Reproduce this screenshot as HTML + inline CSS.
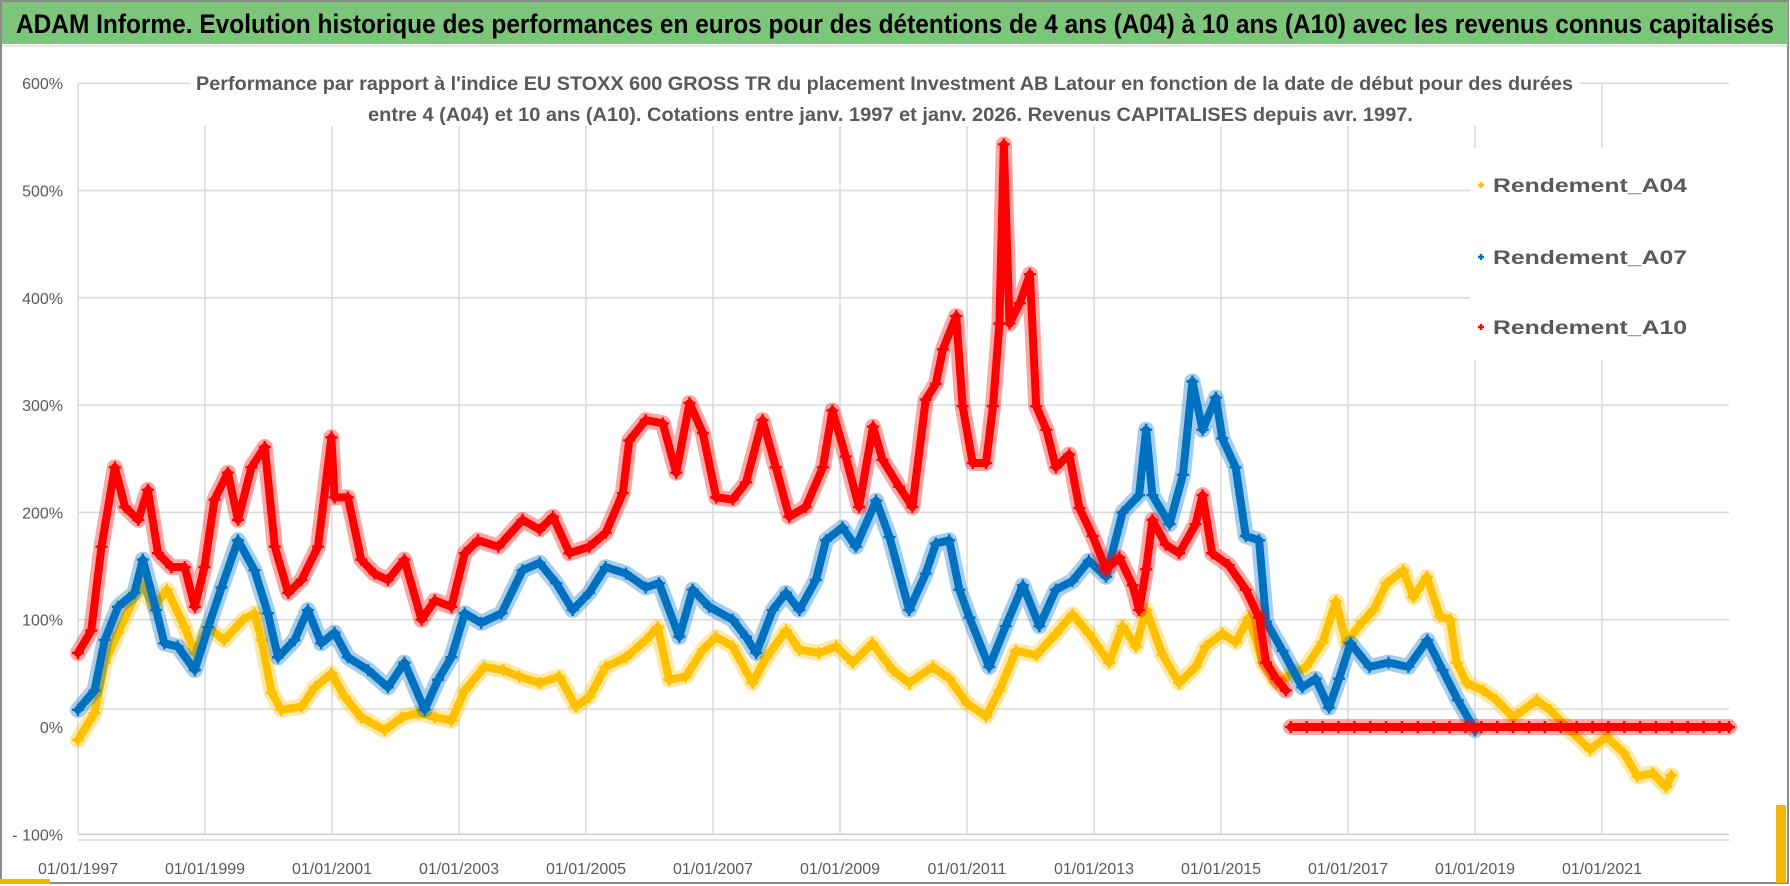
<!DOCTYPE html>
<html><head><meta charset="utf-8"><style>
html,body{margin:0;padding:0;background:#fff}
svg{display:block}
</style></head><body>
<svg id="chart" width="1790" height="886" viewBox="0 0 1790 886" xmlns="http://www.w3.org/2000/svg">
<rect x="0" y="0" width="1790" height="886" fill="#fff"/>
<rect x="1" y="1" width="1787" height="882" fill="none" stroke="#8a8a8a" stroke-width="2"/>
<rect x="2" y="2" width="1786" height="42" fill="#7dc57a"/>
<line x1="2" y1="46" x2="1788" y2="46" stroke="#d0d0d0" stroke-width="1"/>
<text x="16" y="33" font-family="Liberation Sans, sans-serif" font-weight="bold" font-size="27" fill="#000" textLength="1758" lengthAdjust="spacingAndGlyphs">ADAM Informe. Evolution historique des performances en euros pour des détentions de 4 ans (A04) à 10 ans (A10) avec les revenus connus capitalisés</text>
<g id="grid"></g>
<g id="axes"></g>
<g id="series"></g>
<rect x="190" y="64" width="1390" height="62" fill="#fff"/>
<text x="196" y="90" font-family="Liberation Sans, sans-serif" font-weight="bold" font-size="19" fill="#595959" textLength="1377" lengthAdjust="spacingAndGlyphs">Performance par rapport à l'indice EU STOXX 600 GROSS TR  du placement Investment AB Latour en fonction de la date de début pour des durées</text>
<text x="368" y="121" font-family="Liberation Sans, sans-serif" font-weight="bold" font-size="19" fill="#595959" textLength="1045" lengthAdjust="spacingAndGlyphs">entre 4 (A04) et 10 ans (A10).  Cotations entre janv. 1997 et janv. 2026. Revenus CAPITALISES depuis avr. 1997.</text>
<g id="legend"></g>
<rect x="0" y="879" width="50" height="5" fill="#f2b705"/>
<rect x="1776" y="805" width="10" height="78" fill="#f2b705"/>
</svg>
<script>
const yTicks = [600, 500, 400, 300, 200, 100, 0, -100];
const yTickLabels = ["600%", "500%", "400%", "300%", "200%", "100%", "0%", "- 100%"];
const xTicks = [1997, 1999, 2001, 2003, 2005, 2007, 2009, 2011, 2013, 2015, 2017, 2019, 2021];
const xTickLabels = ["01/01/1997","01/01/1999","01/01/2001","01/01/2003","01/01/2005","01/01/2007","01/01/2009","01/01/2011","01/01/2013","01/01/2015","01/01/2017","01/01/2019","01/01/2021"];
const seriesNames = ["Rendement_A04", "Rendement_A07", "Rendement_A10"];

const a04Years = [1997.0,1997.26,1997.42,1997.63,1997.99,1998.2,1998.4,1998.68,1998.84,1999.05,1999.3,1999.6,1999.78,1999.89,2000.05,2000.2,2000.52,2000.73,2000.99,2001.2,2001.46,2001.83,2002.1,2002.36,2002.62,2002.88,2003.09,2003.4,2003.7,2003.95,2004.27,2004.58,2004.84,2005.05,2005.31,2005.63,2005.94,2006.13,2006.31,2006.57,2006.84,2007.05,2007.31,2007.62,2007.84,2008.15,2008.36,2008.67,2008.94,2009.2,2009.51,2009.83,2010.09,2010.46,2010.72,2011.0,2011.3,2011.51,2011.77,2012.09,2012.4,2012.66,2012.92,2013.24,2013.45,2013.66,2013.82,2014.08,2014.34,2014.6,2014.76,2015.02,2015.23,2015.44,2015.66,2015.87,2016.07,2016.34,2016.6,2016.81,2016.97,2017.23,2017.4,2017.61,2017.87,2018.03,2018.24,2018.45,2018.61,2018.71,2018.87,2019.13,2019.34,2019.6,2019.97,2020.18,2020.44,2020.81,2021.07,2021.34,2021.56,2021.8,2022.01,2022.09];
const a04Values = [-12,13,60,88,134,112,128,93,69,93,81,100,106,81,32,16,19,37,50,28,9,-3,9,13,9,6,34,56,53,47,41,47,19,28,56,65,81,93,44,47,72,84,75,41,65,90,72,69,75,60,78,53,41,56,45,22,10,34,71,67,87,105,87,60,94,75,109,67,41,56,75,87,79,102,60,41,48,56,79,117,79,98,109,134,146,121,140,103,100,60,41,34,25,9,25,16,0,-21,-9,-24,-46,-43,-56,-45];

const a07Years = [1997.0,1997.26,1997.42,1997.63,1997.89,1998.02,1998.23,1998.36,1998.57,1998.84,1999.05,1999.26,1999.52,1999.78,1999.99,2000.15,2000.41,2000.62,2000.83,2001.04,2001.25,2001.57,2001.88,2002.14,2002.46,2002.67,2002.88,2003.09,2003.35,2003.67,2004.0,2004.27,2004.53,2004.79,2005.05,2005.31,2005.63,2005.94,2006.15,2006.47,2006.68,2006.94,2007.31,2007.52,2007.68,2007.94,2008.15,2008.36,2008.62,2008.78,2009.04,2009.25,2009.57,2009.78,2010.09,2010.35,2010.51,2010.72,2010.88,2011.04,2011.35,2011.61,2011.88,2012.14,2012.4,2012.66,2012.92,2013.19,2013.45,2013.71,2013.82,2013.92,2014.19,2014.4,2014.55,2014.71,2014.92,2015.02,2015.23,2015.39,2015.6,2015.71,2015.97,2016.28,2016.49,2016.7,2016.86,2017.04,2017.34,2017.64,2017.95,2018.25,2018.49,2018.73,2019.0];
const a07Values = [16,34,81,112,125,156,109,78,75,53,93,130,174,146,106,65,81,109,78,88,65,53,37,60,16,44,65,106,97,106,146,153,134,109,125,149,143,130,134,84,128,112,100,84,69,109,125,109,137,174,186,168,211,177,109,143,171,174,128,102,56,94,132,94,128,136,155,140,200,216,277,216,189,235,322,277,307,269,242,178,174,98,71,37,45,18,45,78,56,60,56,81,53,25,-3];

const a10Years = [1997.0,1997.21,1997.37,1997.58,1997.74,1997.95,1998.1,1998.26,1998.47,1998.68,1998.84,1998.99,1999.15,1999.36,1999.52,1999.73,1999.94,2000.1,2000.31,2000.52,2000.78,2000.99,2001.04,2001.25,2001.46,2001.67,2001.88,2002.14,2002.41,2002.62,2002.88,2003.09,2003.3,2003.62,2004.0,2004.27,2004.48,2004.74,2005.05,2005.31,2005.58,2005.68,2005.94,2006.21,2006.42,2006.63,2006.84,2007.05,2007.31,2007.52,2007.78,2007.99,2008.2,2008.46,2008.73,2008.88,2009.09,2009.3,2009.52,2009.67,2009.93,2010.14,2010.35,2010.51,2010.62,2010.83,2010.93,2011.09,2011.3,2011.41,2011.51,2011.58,2011.67,2011.83,2011.99,2012.09,2012.25,2012.4,2012.61,2012.77,2012.98,2013.19,2013.4,2013.61,2013.71,2013.82,2013.92,2014.13,2014.34,2014.6,2014.71,2014.86,2015.12,2015.39,2015.6,2015.71,2015.87,2016.02];
const a10Values = [69,90,168,242,205,193,221,162,149,149,112,149,212,237,193,242,261,168,125,137,168,270,214,214,156,143,137,156,100,118,112,162,174,168,193,184,196,162,168,181,218,267,286,283,237,302,274,214,212,228,286,242,196,205,242,295,252,205,280,249,224,205,305,320,352,383,299,246,246,299,376,543,376,395,422,299,277,242,254,204,178,147,158,132,109,147,193,170,162,189,216,162,151,128,102,60,45,34];
const a10ZeroYears = [2016.1,2016.35,2016.6,2016.85,2017.1,2017.35,2017.6,2017.85,2018.1,2018.35,2018.6,2018.85,2019.1,2019.35,2019.6,2019.85,2020.1,2020.35,2020.6,2020.85,2021.1,2021.35,2021.6,2021.85,2022.1,2022.35,2022.6,2022.85,2023.0];
const a10ZeroValues = [0,0,0,0,0,0,0,0,0,0,0,0,0,0,0,0,0,0,0,0,0,0,0,0,0,0,0,0,0];

const NS = "http://www.w3.org/2000/svg";
const X0 = 78, PX_PER_YEAR = 63.5, Y0 = 727, PX_PER_PCT = 1.073;
function xScale(yr){ return X0 + (yr - 1997) * PX_PER_YEAR; }
function yScale(v){ return Y0 - v * PX_PER_PCT; }
function mk(tag, attrs, parent){ const e = document.createElementNS(NS, tag); for (const k in attrs) e.setAttribute(k, attrs[k]); parent.appendChild(e); return e; }

const grid = document.getElementById('grid');
const axes = document.getElementById('axes');
const plotRight = xScale(2023);
yTicks.forEach((v, i) => {
  let y = yScale(v);
  if (v === 0) y = y - 18;
  const ln = mk('line', {x1: X0, x2: plotRight, y1: y, y2: y, stroke: v === -100 ? '#cfcfcf' : '#d9d9d9', 'stroke-width': 1.5}, grid);
  
  
  const t = mk('text', {x: 63, y: yScale(v) + 6, 'text-anchor': 'end', 'font-family': 'Liberation Sans, sans-serif', 'font-size': 16, fill: '#595959'}, axes);
  t.textContent = yTickLabels[i];
  
  
});
xTicks.forEach((yr, i) => {
  const x = xScale(yr);
  const ln = mk('line', {x1: x, x2: x, y1: yScale(600), y2: yScale(-100), stroke: '#d9d9d9', 'stroke-width': 1.5}, grid);
  
  
  const t = mk('text', {x: x, y: 874, 'text-anchor': 'middle', 'font-family': 'Liberation Sans, sans-serif', 'font-size': 16, fill: '#595959'}, axes);
  t.textContent = xTickLabels[i];
  
  
});
const axisLine = mk('line', {x1: X0, x2: plotRight, y1: 840, y2: 840, stroke: '#d9d9d9', 'stroke-width': 1.5}, axes);



const seriesLayer = document.getElementById('series');
function plus(x, y, s, color, parent){
  const p = mk('path', {d: `M${x-s},${y}H${x+s}M${x},${y-s}V${y+s}`, stroke: color, 'stroke-width': 2.4, fill: 'none'}, parent);
  return p;
}
function drawSeries(years, vals, color, name, lineWidth){
  const g = mk('g', {}, seriesLayer);
  
  
  const pts = years.map((yr, i) => xScale(yr).toFixed(1) + ',' + yScale(vals[i]).toFixed(1)).join(' ');
  const halo = mk('polyline', {points: pts, fill: 'none', stroke: color, 'stroke-opacity': 0.35, 'stroke-width': lineWidth + 8, 'stroke-linejoin': 'round', 'stroke-linecap': 'round'}, g);
  
  
  const pl = mk('polyline', {points: pts, fill: 'none', stroke: color, 'stroke-width': lineWidth, 'stroke-linejoin': 'round', 'stroke-linecap': 'round'}, g);
  
  
  years.forEach((yr, i) => {
    const m = plus(xScale(yr), yScale(vals[i]), 6, color, g);
    
    
  });
}
drawSeries(a04Years, a04Values, '#ffc000', 'series-a04', 8);
drawSeries(a07Years, a07Values, '#0070c0', 'series-a07', 8);
drawSeries(a10Years, a10Values, '#ff0000', 'series-a10', 8);
drawSeries(a10ZeroYears, a10ZeroValues, '#ff0000', 'series-a10-zero', 8);

const legend = document.getElementById('legend');
const legBg = mk('rect', {x: 1470, y: 148, width: 260, height: 212, fill: '#fff'}, legend);


const legColors = ['#ffc000', '#0070c0', '#ff0000'];
const legY = [185, 257, 327];
seriesNames.forEach((n, i) => {
  const m = plus(1481, legY[i], 3, legColors[i], legend);
  
  
  const t = mk('text', {x: 1493, y: legY[i] + 7, 'font-family': 'Liberation Sans, sans-serif', 'font-weight': 'bold', 'font-size': 19, fill: '#595959', textLength: 194, lengthAdjust: 'spacingAndGlyphs'}, legend);
  t.textContent = n;
  
  
});
</script>
</body></html>
